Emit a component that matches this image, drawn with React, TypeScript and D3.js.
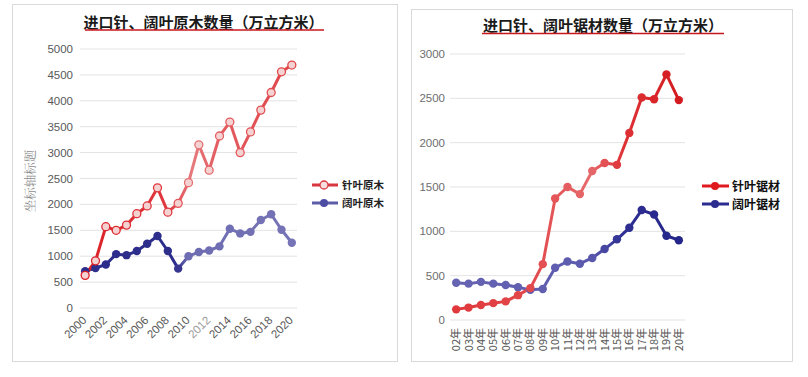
import React from "react";
import * as d3 from "d3";

// ---------- data ----------
const leftYears = [2000, 2001, 2002, 2003, 2004, 2005, 2006, 2007, 2008, 2009, 2010, 2011, 2012, 2013, 2014, 2015, 2016, 2017, 2018, 2019, 2020];
const coniferLogs = [630, 910, 1570, 1500, 1600, 1820, 1970, 2320, 1850, 2020, 2420, 3150, 2660, 3320, 3590, 3000, 3400, 3820, 4160, 4560, 4690];
const broadleafLogs = [710, 770, 840, 1040, 1020, 1100, 1240, 1390, 1100, 760, 1000, 1080, 1110, 1190, 1530, 1440, 1470, 1700, 1810, 1510, 1260];
const leftTicks = [0, 500, 1000, 1500, 2000, 2500, 3000, 3500, 4000, 4500, 5000];

const rightYears = ["02年", "03年", "04年", "05年", "06年", "07年", "08年", "09年", "10年", "11年", "12年", "13年", "14年", "15年", "16年", "17年", "18年", "19年", "20年"];
const coniferLumber = [120, 140, 170, 190, 210, 280, 360, 630, 1370, 1500, 1420, 1680, 1770, 1750, 2110, 2510, 2490, 2770, 2480];
const broadleafLumber = [420, 410, 430, 410, 395, 370, 340, 350, 590, 660, 635, 700, 800, 910, 1040, 1240, 1190, 950, 900];
const rightTicks = [0, 500, 1000, 1500, 2000, 2500, 3000];

const leftTitle = "进口针、阔叶原木数量（万立方米）";
const rightTitle = "进口针、阔叶锯材数量（万立方米）";
const leftSeriesNames = ["针叶原木", "阔叶原木"];
const rightSeriesNames = ["针叶锯材", "阔叶锯材"];
const leftAxisTitle = "坐标轴标题";

const numFont = "'Liberation Sans', Arial, sans-serif";
const cjkFont = "'Noto Sans CJK SC', sans-serif";

export default function App() {
  // left chart scales
  const lx = d3.scalePoint<number>().domain(leftYears).range([80, 297]).padding(0.5);
  const ly = d3.scaleLinear().domain([0, 5000]).range([308, 49]);
  // right chart scales
  const rx = d3.scalePoint<string>().domain(rightYears).range([450, 685]).padding(0.5);
  const ry = d3.scaleLinear().domain([0, 3000]).range([320, 54]);

  const lLine = d3.line<number>().x((_, i) => lx(leftYears[i])!).y((d) => ly(d));
  const rLine = d3.line<number>().x((_, i) => rx(rightYears[i])!).y((d) => ry(d));

  // colour ramps along x (position fraction)
  const lRedStops: [number, string][] = [[0, "#dc1f26"], [0.4, "#df3a40"], [0.52, "#e67a7d"], [0.62, "#e36064"], [1, "#df4549"]];
  const lBlueStops: [number, string][] = [[0, "#2d2e8c"], [0.44, "#2d2e8c"], [0.5, "#6e6cb2"], [1, "#7674b6"]];
  const rRedStops: [number, string][] = [[0, "#e0383b"], [0.35, "#e24a4d"], [0.6, "#e66a6c"], [0.75, "#de3236"], [1, "#d31c21"]];
  const rBlueStops: [number, string][] = [[0, "#6664b2"], [0.6, "#5b5aae"], [0.75, "#2f2f93"], [1, "#25268a"]];

  const rampFn = (stops: [number, string][]) =>
    d3.scaleLinear<string>().domain(stops.map((s) => s[0])).range(stops.map((s) => s[1])).interpolate(d3.interpolateRgb).clamp(true);

  const lRedC = rampFn(lRedStops);
  const lBlueC = rampFn(lBlueStops);
  const rRedC = rampFn(rRedStops);
  const rBlueC = rampFn(rBlueStops);

  const lFrac = (i: number) => (lx(leftYears[i])! - lx(leftYears[0])!) / (lx(leftYears[leftYears.length - 1])! - lx(leftYears[0])!);
  const rFrac = (i: number) => (rx(rightYears[i])! - rx(rightYears[0])!) / (rx(rightYears[rightYears.length - 1])! - rx(rightYears[0])!);

  const grad = (id: string, stops: [number, string][], x1: number, x2: number) => (
    <linearGradient id={id} gradientUnits="userSpaceOnUse" x1={x1} x2={x2} y1={0} y2={0}>
      {stops.map((s, i) => (
        <stop key={i} offset={s[0]} stopColor={s[1]} />
      ))}
    </linearGradient>
  );

  const lx0 = lx(leftYears[0])!;
  const lx1 = lx(leftYears[leftYears.length - 1])!;
  const rx0 = rx(rightYears[0])!;
  const rx1 = rx(rightYears[rightYears.length - 1])!;

  return (
    <svg width={808} height={377} style={{ position: "absolute", left: 0, top: 0, background: "#fff" }}>
      <defs>
        {grad("lred", lRedStops, lx0, lx1)}
        {grad("lblue", lBlueStops, lx0, lx1)}
        {grad("rred", rRedStops, rx0, rx1)}
        {grad("rblue", rBlueStops, rx0, rx1)}
      </defs>
      <rect x={0} y={0} width={808} height={377} fill="#fff" />

      {/* ---------- LEFT PANEL ---------- */}
      <rect x={12.5} y={4.5} width={385} height={357} fill="none" stroke="#d9d9d9" />
      <text x={203.5} y={27.5} textAnchor="middle" fontFamily={cjkFont} fontWeight="bold" fontSize={15} fill="#1a1a1a">
        {leftTitle}
      </text>
      <line x1={85} x2={324} y1={30} y2={30} stroke="#c8161d" strokeWidth={1.5} />

      {leftTicks.map((t) => (
        <g key={t}>
          <line x1={80} x2={297} y1={ly(t)} y2={ly(t)} stroke="#e3e3e3" strokeWidth={1} />
          <text x={73} y={ly(t) + 4} textAnchor="end" fontFamily={numFont} fontSize={11.5} fill="#595959">
            {t}
          </text>
        </g>
      ))}
      <text
        transform={`translate(35,${181}) rotate(-90)`}
        textAnchor="middle"
        fontFamily="'Noto Serif CJK SC', 'Noto Sans CJK SC', serif"
        fontSize={12.5}
        fill="#8c8c8c"
      >
        {leftAxisTitle}
      </text>
      {leftYears.map((y, i) =>
        i % 2 === 0 ? (
          <text
            key={y}
            transform={`translate(${lx(y)! + 2},${321}) rotate(-45)`}
            textAnchor="end"
            fontFamily={numFont}
            fontSize={11.5}
            fill={y === 2012 ? "#9a9a9a" : "#595959"}
          >
            {y}
          </text>
        ) : null
      )}

      <path d={lLine(broadleafLogs)!} fill="none" stroke="url(#lblue)" strokeWidth={3} strokeLinejoin="round" />
      <path d={lLine(coniferLogs)!} fill="none" stroke="url(#lred)" strokeWidth={3} strokeLinejoin="round" />
      {broadleafLogs.map((v, i) => (
        <circle key={i} cx={lx(leftYears[i])!} cy={ly(v)} r={4.2} fill={lBlueC(lFrac(i))} />
      ))}
      {coniferLogs.map((v, i) => (
        <circle key={i} cx={lx(leftYears[i])!} cy={ly(v)} r={4} fill="#f5d2d2" stroke={lRedC(lFrac(i))} strokeWidth={1.3} />
      ))}

      {/* left legend */}
      <g>
        <line x1={312} x2={338} y1={185} y2={185} stroke="#d8383d" strokeWidth={3} />
        <circle cx={324} cy={185} r={4} fill="#f7dede" stroke="#d8383d" strokeWidth={1.3} />
        <text x={342} y={189} fontFamily={cjkFont} fontWeight="bold" fontSize={10.5} fill="#222">
          {leftSeriesNames[0]}
        </text>
        <line x1={312} x2={338} y1={203} y2={203} stroke="#5d5cab" strokeWidth={3} />
        <circle cx={324} cy={203} r={4} fill="#4e4da4" />
        <text x={342} y={207} fontFamily={cjkFont} fontWeight="bold" fontSize={10.5} fill="#222">
          {leftSeriesNames[1]}
        </text>
      </g>

      {/* ---------- RIGHT PANEL ---------- */}
      <rect x={411.5} y={9.5} width={381} height={352} fill="none" stroke="#d9d9d9" />
      <text x={603} y={31} textAnchor="middle" fontFamily={cjkFont} fontWeight="bold" fontSize={15} fill="#1a1a1a">
        {rightTitle}
      </text>
      <line x1={482} x2={724} y1={33.5} y2={33.5} stroke="#c8161d" strokeWidth={1.5} />

      {rightTicks.map((t) => (
        <g key={t}>
          <line x1={450} x2={685} y1={ry(t)} y2={ry(t)} stroke="#e3e3e3" strokeWidth={1} />
          <text x={445} y={ry(t) + 4} textAnchor="end" fontFamily={numFont} fontSize={11.5} fill="#6e6e6e">
            {t}
          </text>
        </g>
      ))}
      {rightYears.map((y) => (
        <text
          key={y}
          transform={`translate(${rx(y)! + 4},${328}) rotate(-90)`}
          textAnchor="end"
          fontFamily={cjkFont}
          fontSize={11}
          fill="#555"
        >
          {y}
        </text>
      ))}

      <path d={rLine(broadleafLumber)!} fill="none" stroke="url(#rblue)" strokeWidth={3} strokeLinejoin="round" />
      <path d={rLine(coniferLumber)!} fill="none" stroke="url(#rred)" strokeWidth={3} strokeLinejoin="round" />
      {broadleafLumber.map((v, i) => (
        <circle key={i} cx={rx(rightYears[i])!} cy={ry(v)} r={4.2} fill={rBlueC(rFrac(i))} />
      ))}
      {coniferLumber.map((v, i) => (
        <circle key={i} cx={rx(rightYears[i])!} cy={ry(v)} r={4.2} fill={rRedC(rFrac(i))} />
      ))}

      {/* right legend */}
      <g>
        <line x1={702} x2={729} y1={186} y2={186} stroke="#e0191f" strokeWidth={3} />
        <circle cx={715} cy={186} r={4} fill="#e0191f" />
        <text x={732} y={190.5} fontFamily={cjkFont} fontWeight="bold" fontSize={12} fill="#111">
          {rightSeriesNames[0]}
        </text>
        <line x1={702} x2={729} y1={204} y2={204} stroke="#2b2b90" strokeWidth={3} />
        <circle cx={715} cy={204} r={4} fill="#2b2b90" />
        <text x={732} y={208.5} fontFamily={cjkFont} fontWeight="bold" fontSize={12} fill="#111">
          {rightSeriesNames[1]}
        </text>
      </g>
    </svg>
  );
}
